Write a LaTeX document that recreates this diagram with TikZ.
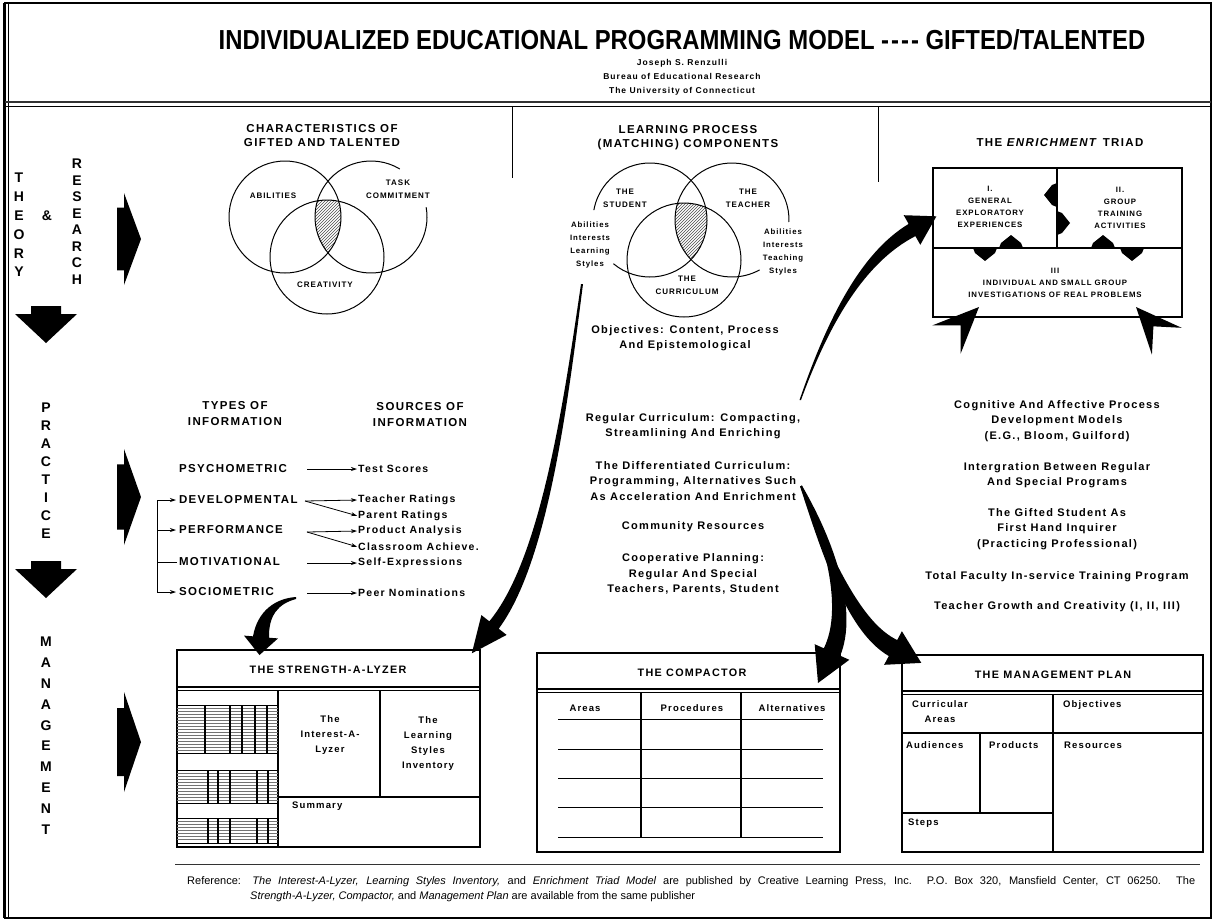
\documentclass[tikz,border=0pt]{standalone}
\usepackage{fontspec}
\setmainfont{Liberation Sans}
\newfontfamily\titlefont{Liberation Sans}[FakeStretch=0.868]
\newfontfamily\capf{Liberation Sans}[LetterSpace=12]
\newfontfamily\bodyf{Liberation Sans}[LetterSpace=12]
\usetikzlibrary{arrows.meta,patterns}
\newcommand{\fsz}[2]{\fontsize{#1}{#2}\selectfont}
\begin{document}
\begin{tikzpicture}[x=1pt,y=-1pt,
  every node/.style={inner sep=0pt, align=center},
  bigl/.style={font=\bfseries\fsz{14}{14}},
  hdr/.style={font=\capf\bfseries\fsz{11.5}{14}},
  vlab/.style={font=\capf\bfseries\fsz{8}{13}},
  vsm/.style={font=\bodyf\bfseries\fsz{7.8}{13.3}},
  body/.style={font=\bodyf\bfseries\fsz{11}{15.5}},
  tri/.style={font=\capf\bfseries\fsz{7.8}{12}},
  info/.style={font=\capf\bfseries\fsz{11.5}{16}},
  infol/.style={font=\capf\bfseries\fsz{11.5}{12}, anchor=west, outer sep=2pt},
  srcl/.style={font=\bodyf\bfseries\fsz{10.5}{12}, anchor=west},
  btitle/.style={font=\capf\bfseries\fsz{10.8}{12}},
  btxt/.style={font=\bodyf\bfseries\fsz{9.5}{15}},
  thinl/.style={line width=0.8pt},
  framel/.style={line width=1.3pt},
  arr/.style={line width=0.8pt, -{Stealth[length=6pt,width=4pt]}, shorten >=1pt},
  gridl/.style={line width=0.35pt, black!55},
  gbar/.style={line width=1.4pt},
  venn/.style={line width=1pt},
  bigstealth/.pic={\fill (0,0) -- (-46,20) -- (-26,0) -- (-46,-20) -- cycle;},
  housearr/.pic={\fill (-12,0) -- (-10,-5) -- (0,-13) -- (10,-5) -- (12,0) -- cycle;},
]
\useasboundingbox (0,0) rectangle (1214,922);
% frame
\draw[line width=1.5pt] (5,3) rectangle (1211,918);
\draw[line width=2.5pt] (4,3) -- (4,918);
\draw[line width=0.8pt] (8.5,3) -- (8.5,918);
% title
\node[font=\titlefont\bfseries\fsz{27.5}{28}] (title) at (682,40)
  {INDIVIDUALIZED EDUCATIONAL PROGRAMMING MODEL -\kern2pt-\kern2pt-\kern2pt- GIFTED/TALENTED};
\node[font=\bodyf\bfseries\fsz{8.5}{14}] (author) at (682,77)
  {Joseph S. Renzulli\\Bureau of Educational Research\\The University of Connecticut};
\draw[line width=2.4pt, black!80] (5,102) -- (1211,102);
\draw[line width=0.8pt] (5,106) -- (1211,106);
\draw[thinl] (512,106) -- (512,178);
\draw[thinl] (878,106) -- (878,182);
% left column
\foreach \l [count=\i from 0] in {T,H,E,O,R,Y} \node[bigl] (th\i) at (19,{178+18.8*\i}) {\l};
\node[bigl] (amp) at (47,216) {\&};
\foreach \l [count=\i from 0] in {R,E,S,E,A,R,C,H} \node[bigl] (re\i) at (77,{164+16.5*\i}) {\l};
\foreach \l [count=\i from 0] in {P,R,A,C,T,I,C,E} \node[bigl] (pr\i) at (46,{408+18*\i}) {\l};
\foreach \l [count=\i from 0] in {M,A,N,A,G,E,M,E,N,T} \node[bigl] (ma\i) at (46,{642+20.8*\i}) {\l};
\foreach \c/\h in {239/46, 497/48, 742/50}
  \fill (117,{\c-0.68*\h}) -- (124,{\c-0.68*\h}) -- (124,{\c-\h}) -- (141,\c) -- (124,{\c+\h})
        -- (124,{\c+0.68*\h}) -- (117,{\c+0.68*\h}) -- cycle;
\foreach \t in {306,561}
  \fill (31,\t) -- (61,\t) -- (61,{\t+8}) -- (77,{\t+8}) -- (46,{\t+37}) -- (15,{\t+8}) -- (31,{\t+8}) -- cycle;
% venn 1
\node[hdr] (char) at (322,136) {CHARACTERISTICS OF\\GIFTED AND TALENTED};
\coordinate (v1a) at (285,217); \coordinate (v1t) at (371,217); \coordinate (v1c) at (327,257);
\begin{scope}
  \clip (v1a) circle[radius=56]; \clip (v1t) circle[radius=56];
  \fill[pattern=north east lines, pattern color=black!70] (v1c) circle[radius=57];
\end{scope}
\draw[venn] (v1a) circle[radius=56];
\draw[venn] (v1t) ++(-59:56) arc[start angle=-59, end angle=-370, radius=56];
\draw[venn] (v1c) circle[radius=57];
\node[vlab] (abil) at (273,196) {ABILITIES};
\node[vlab] (task) at (398,189) {TASK\\COMMITMENT};
\node[vlab] (crea) at (325,285) {CREATIVITY};
% venn 2
\node[hdr] (lp) at (688,138) {LEARNING PROCESS\\(MATCHING) COMPONENTS};
\coordinate (v2s) at (650,220); \coordinate (v2t) at (732,220); \coordinate (v2c) at (684,260);
\begin{scope}
  \clip (v2s) circle[radius=57]; \clip (v2t) circle[radius=57];
  \fill[pattern=north east lines, pattern color=black!70] (v2c) circle[radius=57];
\end{scope}
\draw[venn] (v2s) ++(-230:57) arc[start angle=-230, end angle=-530, radius=57];
\draw[venn] (v2t) ++(2:57) arc[start angle=2, end angle=-299, radius=57];
\draw[venn] (v2c) circle[radius=57];
\node[vlab] (stud) at (625,198) {THE\\STUDENT};
\node[vlab] (teach) at (748,198) {THE\\TEACHER};
\node[vsm] (sl) at (590,245) {Abilities\\Interests\\Learning\\Styles};
\node[vsm] (tl) at (783,252) {Abilities\\Interests\\Teaching\\Styles};
\node[vlab] (curr) at (687,285) {THE\\CURRICULUM};
\node[body] (obj) at (685,338) {Objectives: Content, Process\\And Epistemological};
% enrichment triad
\node[hdr] (triadt) at (1060,143) {THE \textit{ENRICHMENT} TRIAD};
\draw[line width=1.5pt] (933,168) rectangle (1182,317);
\draw[line width=1.5pt] (1057,168) -- (1057,248);
\draw[line width=1.5pt] (933,248) -- (1182,248);
\node[tri] (t1) at (990,207) {I.\\GENERAL\\EXPLORATORY\\EXPERIENCES};
\node[tri] (t2) at (1120,208) {II.\\GROUP\\TRAINING\\ACTIVITIES};
\node[tri] (t3) at (1055,283) {III\\INDIVIDUAL AND SMALL GROUP\\INVESTIGATIONS OF REAL PROBLEMS};
\pic at (1011,248) {housearr};
\pic[rotate=180] at (985,248) {housearr};
\pic at (1103,248) {housearr};
\pic[rotate=180] at (1132,248) {housearr};
\pic[rotate=90] at (1057,195) {housearr};
\pic[rotate=-90] at (1057,223) {housearr};
\pic[rotate=45] at (979,307) {bigstealth};
\pic[rotate=132] at (1136,307) {bigstealth};
% types / sources of information
\node[info] (types) at (235,414) {TYPES OF\\INFORMATION};
\node[info] (sources) at (420,415) {SOURCES OF\\INFORMATION};
\node[infol] (psy) at (177,469) {PSYCHOMETRIC};
\node[infol] (dev) at (177,500) {DEVELOPMENTAL};
\node[infol] (perf) at (177,530) {PERFORMANCE};
\node[infol] (mot) at (177,562) {MOTIVATIONAL};
\node[infol] (soc) at (177,592) {SOCIOMETRIC};
\node[srcl] (ts) at (358,469) {Test Scores};
\node[srcl] (tr) at (358,500) {Teacher Ratings};
\node[srcl] (prt) at (358,516) {Parent Ratings};
\node[srcl] (pa) at (358,531) {Product Analysis};
\node[srcl] (ca) at (358,547) {Classroom Achieve.};
\node[srcl] (se) at (358,563) {Self-Expressions};
\node[srcl] (pn) at (358,593) {Peer Nominations};
\coordinate (psyo) at (307,469); \coordinate (devo) at (305,501);
\coordinate (perfo) at (307,532); \coordinate (moto) at (307,563); \coordinate (soco) at (307,593);
\draw[arr] (psyo) -- (ts.west);
\draw[arr] (devo) -- (tr.west);
\draw[arr] (devo) -- (prt.west);
\draw[arr] (perfo) -- (pa.west);
\draw[arr] (perfo) -- (ca.west);
\draw[arr] (moto) -- (se.west);
\draw[arr] (soco) -- (pn.west);
\coordinate (bk) at (157,562);
\draw[thinl] (mot.west) -- (bk);
\draw[arr] (bk) |- (dev.west);
\draw[arr] (bk) |- (perf.west);
\draw[arr] (bk) |- (soc.west);
% middle texts
\node[body] (reg) at (693,426) {Regular Curriculum: Compacting,\\Streamlining And Enriching};
\node[body] (diff) at (693,481) {The Differentiated Curriculum:\\Programming, Alternatives Such\\As Acceleration And Enrichment};
\node[body] (comm) at (693,527) {Community Resources};
\node[body] (coop) at (693,574) {Cooperative Planning:\\Regular And Special\\Teachers, Parents, Student};
% right texts
\node[body] (cog) at (1057,421) {Cognitive And Affective Process\\Development Models\\(E.G., Bloom, Guilford)};
\node[body] (integ) at (1057,475) {Intergration Between Regular\\And Special Programs};
\node[body] (gift) at (1057,529) {The Gifted Student As\\First Hand Inquirer\\(Practicing Professional)};
\node[body] (tot) at (1057,577) {Total Faculty In-service Training Program};
\node[body] (tgc) at (1057,607) {Teacher Growth and Creativity (I, II, III)};
% strength-a-lyzer
\draw[framel] (177,650) rectangle (480,847);
\node[btitle] (sal) at (328,670) {THE STRENGTH-A-LYZER};
\draw[framel] (177,687) -- (480,687);
\draw[line width=0.7pt] (177,690.5) -- (480,690.5);
\draw[framel] (278,690) -- (278,847);
\draw[framel] (380,690) -- (380,797);
\draw[framel] (278,797) -- (480,797);
\foreach \y in {708,711,...,751} \draw[gridl] (177,\y) -- (278,\y);
\foreach \y in {773,776,...,801} \draw[gridl] (177,\y) -- (278,\y);
\foreach \y in {821,824,...,841} \draw[gridl] (177,\y) -- (278,\y);
\foreach \y in {705,753,770,803,818,843} \draw[thinl] (177,\y) -- (278,\y);
\foreach \x in {205,230,242,255,267} \draw[gbar] (\x,705) -- (\x,753);
\foreach \x in {208,218,230,257,268} \draw[gbar] (\x,770) -- (\x,803);
\foreach \x in {208,218,230,257,268} \draw[gbar] (\x,818) -- (\x,843);
\node[btxt] (ial) at (330,735) {The\\Interest-A-\\Lyzer};
\node[btxt] (lsi) at (428,744) {The\\Learning\\Styles\\Inventory};
\node[btxt, anchor=west] (summ) at (292,806) {Summary};
% compactor
\draw[framel] (537,653) rectangle (840,852);
\node[btitle] (comp) at (692,673) {THE COMPACTOR};
\draw[framel] (537,689) -- (840,689);
\draw[line width=0.7pt] (537,692.5) -- (840,692.5);
\draw[framel] (641,692) -- (641,837);
\draw[framel] (741,692) -- (741,837);
\node[btxt] (areas) at (585,708) {Areas};
\node[btxt] (proc) at (692,708) {Procedures};
\node[btxt] (alt) at (792,708) {Alternatives};
\foreach \y in {719,749,778,807,837} \draw[thinl] (558,\y) -- (823,\y);
% management plan
\draw[framel] (902,655) rectangle (1203,852);
\node[btitle] (mp) at (1053,675) {THE MANAGEMENT PLAN};
\draw[framel] (902,691) -- (1203,691);
\draw[line width=0.7pt] (902,694.5) -- (1203,694.5);
\draw[framel] (1053,694) -- (1053,852);
\draw[framel] (902,733) -- (1203,733);
\draw[framel] (980,733) -- (980,813);
\draw[framel] (902,813) -- (1053,813);
\node[btxt] (cura) at (940,712) {Curricular\\Areas};
\node[btxt, anchor=west] (objm) at (1063,705) {Objectives};
\node[btxt, anchor=west] (aud) at (906,745) {Audiences};
\node[btxt, anchor=west] (prod) at (989,745) {Products};
\node[btxt, anchor=west] (res) at (1064,745) {Resources};
\node[btxt, anchor=west] (steps) at (908,823) {Steps};
% footer
\draw[line width=0.8pt, black!80] (175,864) -- (1200,864);
\node[anchor=west, font=\fsz{11}{14}] (ref1) at (187,882) {\makebox[1008pt][s]{Reference: \textit{The Interest-A-Lyzer, Learning Styles Inventory,} and \textit{Enrichment Triad Model} are published by Creative Learning Press, Inc. P.O. Box 320, Mansfield Center, CT 06250. The}};
\node[anchor=west, font=\fsz{11}{14}] (ref2) at (250,897) {\textit{Strength-A-Lyzer, Compactor,} and \textit{Management Plan} are available from the same publisher};
% big curved arrows
\fill (799.5,400) .. controls (827,320.3) and (859.6,253.6) .. (908.6,223.9) -- (903.7,215.2) -- (936.4,216.3)
  -- (920.3,244.8) -- (915.4,236.1) .. controls (864.4,262.4) and (829,323.7) .. (801,400) -- cycle;
\fill (583,284) .. controls (568,400.3) and (548.8,561.2) .. (498.7,628.7) -- (506.6,634.9) -- (471.8,653.3)
  -- (481.4,615.1) -- (489.3,621.3) .. controls (541.2,558.8) and (564,399.7) .. (581,284) -- cycle;
\fill (296,597) .. controls (275.8,598.3) and (257.5,610.6) .. (253,636.3) -- (244,635.6) -- (259.5,655)
  -- (278,638.4) -- (269,637.7) .. controls (268.5,615.4) and (278.2,603.7) .. (296,599) -- cycle;
\fill (801.9,485.5) .. controls (835.7,543.6) and (858,612) .. (840.2,655.7) -- (849.3,659.8) -- (818,683)
  -- (814.7,644.2) -- (823.8,648.3) .. controls (842,612) and (828.3,546.4) .. (800.1,486.5) -- cycle;
\fill (801.9,485.5) .. controls (831.7,558.6) and (861.4,623.2) .. (897.2,640) -- (901.9,631.2) -- (921.3,662.9)
  -- (884.1,664.8) -- (888.8,656) .. controls (848.6,632.8) and (824.3,561.4) .. (800.1,486.5) -- cycle;
\end{tikzpicture}
\end{document}
